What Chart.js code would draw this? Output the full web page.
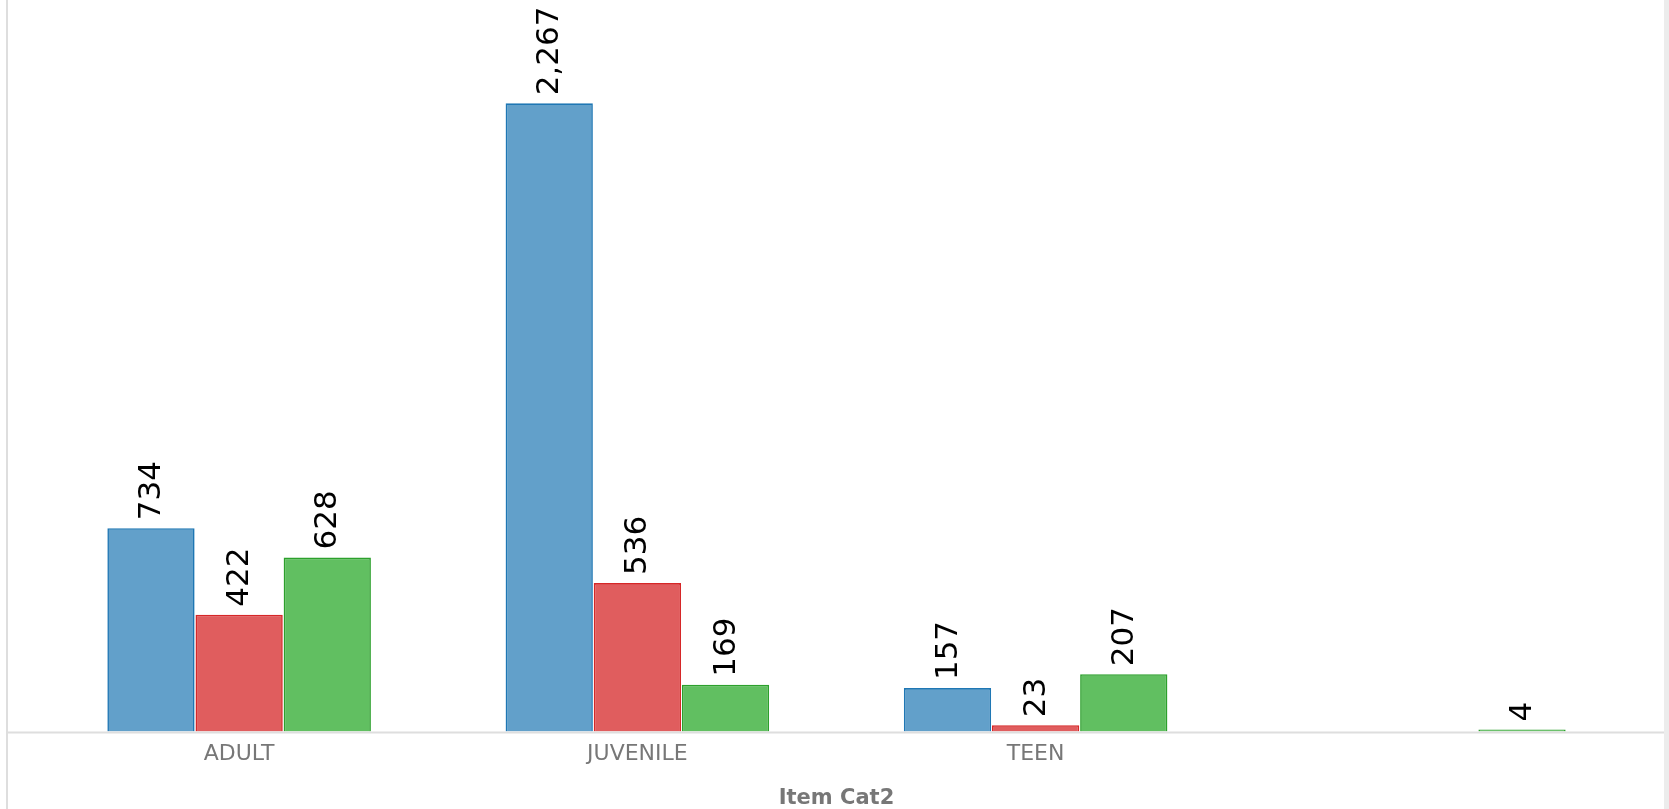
<!DOCTYPE html>
<html>
<head>
<meta charset="utf-8">
<script src="https://cdn.jsdelivr.net/npm/chart.js@4"></script>
<style>
  body { margin: 0; background: #fff; }
  #wrap { width: 1669px; height: 809px; position: relative; }
</style>
</head>
<body>
<div id="wrap"><canvas id="cat-chart"></canvas></div>
<script>
// categories and values
const categories = ["ADULT", "JUVENILE", "TEEN", ""];
const blueValues = [734, 2267, 157, null];
const redValues = [422, 536, 23, null];
const greenValues = [628, 169, 207, 4];

// frame lines round the plot (left edge, base line, right strip)
const framePlugin = {
  id: "frame",
  beforeDatasetsDraw(chart) {
    const ctx = chart.ctx;
    const area = chart.chartArea;
    const w = chart.width, h = chart.height;
    ctx.save();
    ctx.strokeStyle = "#dedede";
    ctx.lineWidth = 2;
    ctx.beginPath();
    ctx.moveTo(7, 0);
    ctx.lineTo(7, h);
    ctx.moveTo(6, area.bottom + 1);
    ctx.lineTo(w - 5, area.bottom + 1);
    ctx.stroke();
    ctx.fillStyle = "#ececec";
    ctx.fillRect(w - 5, 0, 5, h);
    ctx.restore();
  }
};

// rotated value labels on top of each bar
const valueLabels = {
  id: "valueLabels",
  afterDatasetsDraw(chart) {
    const ctx = chart.ctx;
    ctx.save();
    ctx.font = "31px 'DejaVu Sans'";
    ctx.fillStyle = "#000";
    ctx.textAlign = "left";
    ctx.textBaseline = "middle";
    chart.data.datasets.forEach((ds, i) => {
      const meta = chart.getDatasetMeta(i);
      meta.data.forEach((bar, j) => {
        const v = ds.data[j];
        if (v === null || v === undefined) return;
        ctx.save();
        ctx.translate(bar.x, bar.y - 8);
        ctx.rotate(-Math.PI / 2);
        ctx.fillText(v.toLocaleString("en-US"), 0, 1);
        ctx.restore();
      });
    });
    ctx.restore();
  }
};

new Chart("cat-chart", {
  type: "bar",
  data: {
    labels: categories,
    datasets: [{
      label: "Series 1",
      data: blueValues,
      backgroundColor: "rgba(31,119,180,0.7)",
      borderColor: "#1f77b4",
      borderWidth: 1.6
    }, {
      label: "Series 2",
      data: redValues,
      backgroundColor: "rgba(214,39,40,0.75)",
      borderColor: "#d62728",
      borderWidth: 1.6
    }, {
      label: "Series 3",
      data: greenValues,
      backgroundColor: "rgba(44,170,44,0.75)",
      borderColor: "#2ca02c",
      borderWidth: 1.6,
      minBarLength: 2
    }]
  },
  plugins: [framePlugin, valueLabels],
  options: {
    responsive: true,
    maintainAspectRatio: false,
    devicePixelRatio: 1,
    animation: false,
    layout: { padding: { left: 40, right: 36, top: 0, bottom: 0 } },
    datasets: { bar: { categoryPercentage: 0.664, barPercentage: 0.99 } },
    plugins: {
      legend: { display: false },
      tooltip: { enabled: false }
    },
    scales: {
      x: {
        grid: { display: false, drawTicks: false },
        border: { display: false },
        ticks: {
          color: "#777",
          padding: 9,
          font: { family: "DejaVu Sans", size: 22 }
        },
        title: {
          display: true,
          text: "Item Cat2",
          color: "#777",
          padding: { top: 12, bottom: 0 },
          font: { family: "DejaVu Sans", size: 21, weight: "bold", lineHeight: 1.0 }
        }
      },
      y: {
        display: false,
        min: 0,
        max: 2640
      }
    }
  }
});
</script>
</body>
</html>
